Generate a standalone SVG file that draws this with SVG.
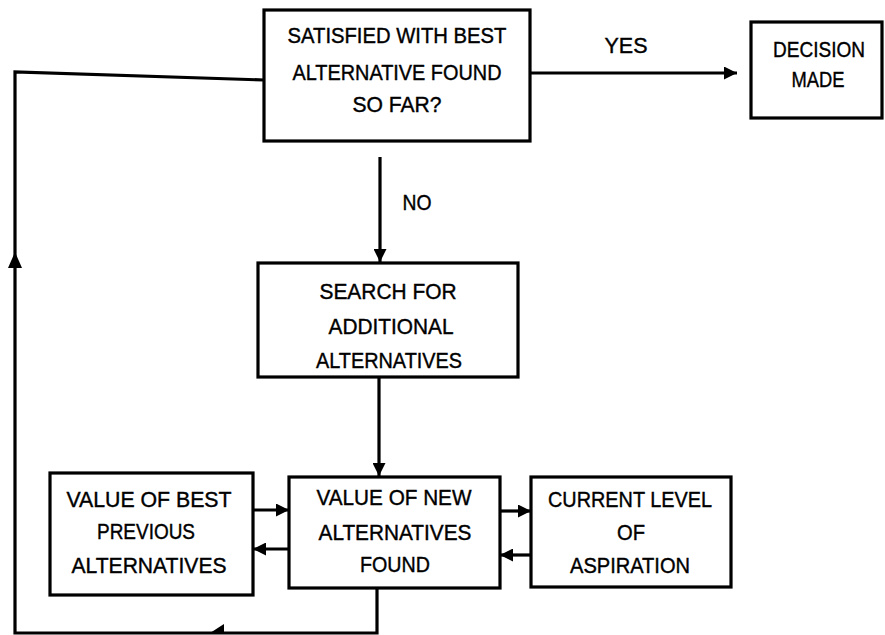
<svg xmlns="http://www.w3.org/2000/svg" width="885" height="635" viewBox="0 0 885 635">
<style>
.box{fill:#fff;stroke:#000;stroke-width:3.2}
.ln{fill:none;stroke:#000;stroke-width:3.2}
.ah{fill:#000;stroke:none}
text{font-family:"Liberation Sans",Arial,sans-serif;font-size:22px;fill:#000;stroke:#000;stroke-width:0.4;text-anchor:middle}
</style>
<defs>
<marker id="arr" viewBox="0 0 13 13" refX="13" refY="6.5" markerWidth="13" markerHeight="13" markerUnits="userSpaceOnUse" orient="auto">
<path d="M0,0 L13,6.5 L0,13 z" fill="#000"/>
</marker>
</defs>
<rect width="885" height="635" fill="#fff"/>
<g id="connectors">
<polyline class="ln" points="264,80 15,72 15,633 377,633 377,588"/>
<polygon class="ah" points="15,252 8,268 22,268"/>
<polygon class="ah" points="210,633 224,624 224,633"/>
<line class="ln" x1="530" y1="73" x2="737" y2="73" marker-end="url(#arr)"/>
<line class="ln" x1="380" y1="157" x2="380" y2="262" marker-end="url(#arr)"/>
<line class="ln" x1="379" y1="377" x2="379" y2="476" marker-end="url(#arr)"/>
<line class="ln" x1="253" y1="510" x2="289" y2="510" marker-end="url(#arr)"/>
<line class="ln" x1="289" y1="549" x2="253" y2="549" marker-end="url(#arr)"/>
<line class="ln" x1="500" y1="511" x2="531" y2="511" marker-end="url(#arr)"/>
<line class="ln" x1="531" y1="555" x2="500" y2="555" marker-end="url(#arr)"/>
<text x="626" y="53" textLength="43" lengthAdjust="spacingAndGlyphs">YES</text>
<text x="417" y="210" textLength="29" lengthAdjust="spacingAndGlyphs">NO</text>
</g>
<g id="satisfied">
<rect class="box" x="264" y="10" width="266" height="131"/>
<text x="397" y="43" textLength="219" lengthAdjust="spacingAndGlyphs">SATISFIED WITH BEST</text>
<text x="397" y="80" textLength="209" lengthAdjust="spacingAndGlyphs">ALTERNATIVE FOUND</text>
<text x="397" y="112" textLength="89" lengthAdjust="spacingAndGlyphs">SO FAR?</text>
</g>
<g id="decision">
<rect class="box" x="751" y="22" width="131" height="96"/>
<text x="819" y="57" textLength="92" lengthAdjust="spacingAndGlyphs">DECISION</text>
<text x="818" y="87" textLength="53" lengthAdjust="spacingAndGlyphs">MADE</text>
</g>
<g id="search">
<rect class="box" x="258" y="263" width="260" height="114"/>
<text x="388" y="299" textLength="137" lengthAdjust="spacingAndGlyphs">SEARCH FOR</text>
<text x="391" y="334" textLength="125" lengthAdjust="spacingAndGlyphs">ADDITIONAL</text>
<text x="389" y="368" textLength="146" lengthAdjust="spacingAndGlyphs">ALTERNATIVES</text>
</g>
<g id="best-previous">
<rect class="box" x="50" y="473" width="203" height="122"/>
<text x="149" y="507" textLength="165" lengthAdjust="spacingAndGlyphs">VALUE OF BEST</text>
<text x="146" y="539" textLength="98" lengthAdjust="spacingAndGlyphs">PREVIOUS</text>
<text x="149" y="573" textLength="155" lengthAdjust="spacingAndGlyphs">ALTERNATIVES</text>
</g>
<g id="new-alternatives">
<rect class="box" x="289" y="477" width="211" height="111"/>
<text x="394" y="505" textLength="155" lengthAdjust="spacingAndGlyphs">VALUE OF NEW</text>
<text x="395" y="540" textLength="153" lengthAdjust="spacingAndGlyphs">ALTERNATIVES</text>
<text x="395" y="572" textLength="70" lengthAdjust="spacingAndGlyphs">FOUND</text>
</g>
<g id="aspiration">
<rect class="box" x="531" y="477" width="200" height="110"/>
<text x="630" y="507" textLength="164" lengthAdjust="spacingAndGlyphs">CURRENT LEVEL</text>
<text x="631" y="540" textLength="28" lengthAdjust="spacingAndGlyphs">OF</text>
<text x="630" y="573" textLength="120" lengthAdjust="spacingAndGlyphs">ASPIRATION</text>
</g>
</svg>
